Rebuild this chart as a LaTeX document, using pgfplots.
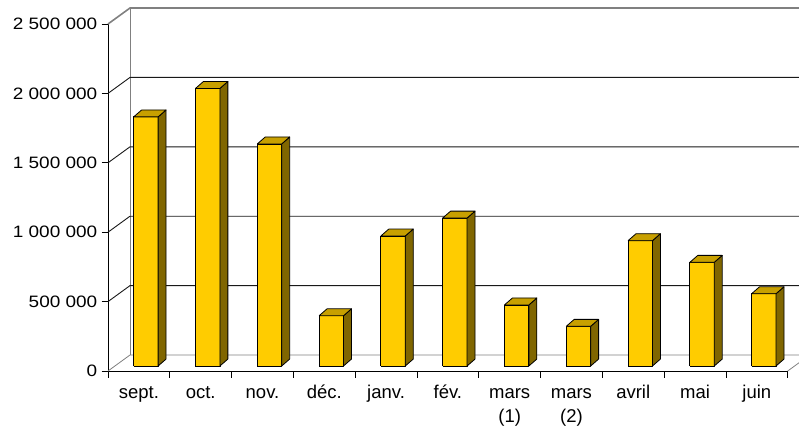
\documentclass[border=0pt]{standalone}
\usepackage{fontspec}
\setmainfont{Liberation Sans}
\newfontfamily\ylabfont{Liberation Sans}[FakeStretch=1.15]
\usepackage{pgfplots}
\usepackage{pgfplotstable}
\pgfplotsset{compat=1.18}
\definecolor{barfront}{RGB}{255,204,0}
\definecolor{barside}{RGB}{128,102,0}
\definecolor{bartop}{RGB}{200,160,0}
\definecolor{wallgray}{RGB}{128,128,128}

\pgfplotstableread{
idx value
0 1795000
1 2000000
2 1600000
3 362000
4 937000
5 1066000
6 440000
7 286000
8 903000
9 747000
10 521000
}\datatable

% depth offsets (front plane axis units)
\def\wdx{0.356}
\def\wdy{115274}
\def\wend{11.4}
\def\bdx{0.129}
\def\bdy{50000}
\def\bbase{36000}

\begin{document}
\begin{tikzpicture}
\begin{axis}[
  scale only axis, width=679.7pt, height=347pt,
  xmin=0, xmax=11, ymin=0, ymax=2500000,
  clip=false,
  axis x line=bottom, axis y line=left,
  axis line style={-, black, line width=0.8pt},
  tick style={black, line width=0.8pt},
  tick align=outside,
  major tick length=6.5pt,
  xtick={0,...,11},
  xticklabels={{\strut sept.},{\strut oct.},{\strut nov.},{\strut déc.},{\strut janv.},{\strut fév.},{\strut mars\\(1)},{\strut mars\\(2)},{\strut avril},{\strut mai},{\strut juin}},
  x tick label as interval,
  ytick={0,500000,1000000,1500000,2000000,2500000},
  yticklabels={0,500 000,1 000 000,1 500 000,2 000 000,2 500 000},
  scaled y ticks=false,
  xticklabel style={font=\fontsize{18.5}{24.5}\selectfont, align=center, inner sep=0pt, yshift=-3.5pt},
  yticklabel style={font=\ylabfont\fontsize{16.5}{20}\selectfont, inner sep=0pt, xshift=-4pt},
]
% walls: floor and back wall edges
\addplot[wallgray, line width=0.8pt] coordinates {(0,0) (\wdx,\wdy) (\wend,\wdy)};
\addplot[wallgray, line width=0.8pt] coordinates {(11,0) (11.356,\wdy)};
\addplot[wallgray, line width=0.8pt] coordinates {(\wdx,\wdy) (\wdx,2615274)};
\addplot[wallgray, line width=1.6pt] coordinates {(0,2500000) (\wdx,2615274) (\wend,2615274)};
% gridlines
\pgfplotsinvokeforeach{500000,1000000,1500000,2000000}{
  \edef\temp{\noexpand\addplot[black!90, line width=0.9pt] coordinates {(0,#1) (\wdx,\fpeval{#1+\wdy}) (\wend,\fpeval{#1+\wdy})};}
  \temp
}
% bars
\pgfplotsinvokeforeach{0,...,10}{
  \pgfplotstablegetelem{#1}{value}\of\datatable
  \edef\L{\fpeval{#1+0.416}}
  \edef\R{\fpeval{#1+0.811}}
  \edef\LL{\fpeval{#1+0.416+\bdx}}
  \edef\RR{\fpeval{#1+0.811+\bdx}}
  \edef\B{\bbase}
  \edef\BB{\fpeval{\bbase+\bdy}}
  \edef\T{\fpeval{\pgfplotsretval+\bbase}}
  \edef\TT{\fpeval{\pgfplotsretval+\bbase+\bdy}}
  \edef\temp{%
    \noexpand\addplot[fill=barfront, draw=black, line width=0.8pt, line join=round] coordinates {(\L,\B) (\R,\B) (\R,\T) (\L,\T) (\L,\B)};
    \noexpand\addplot[fill=barside, draw=black, line width=0.8pt, line join=round] coordinates {(\R,\B) (\RR,\BB) (\RR,\TT) (\R,\T) (\R,\B)};
    \noexpand\addplot[fill=bartop, draw=black, line width=0.8pt, line join=round] coordinates {(\L,\T) (\R,\T) (\RR,\TT) (\LL,\TT) (\L,\T)};
  }
  \temp
}
\end{axis}
\pgfresetboundingbox
\path (current axis.south west) ++(-108pt,-61pt) rectangle ++(799pt,432pt);
\end{tikzpicture}
\end{document}
